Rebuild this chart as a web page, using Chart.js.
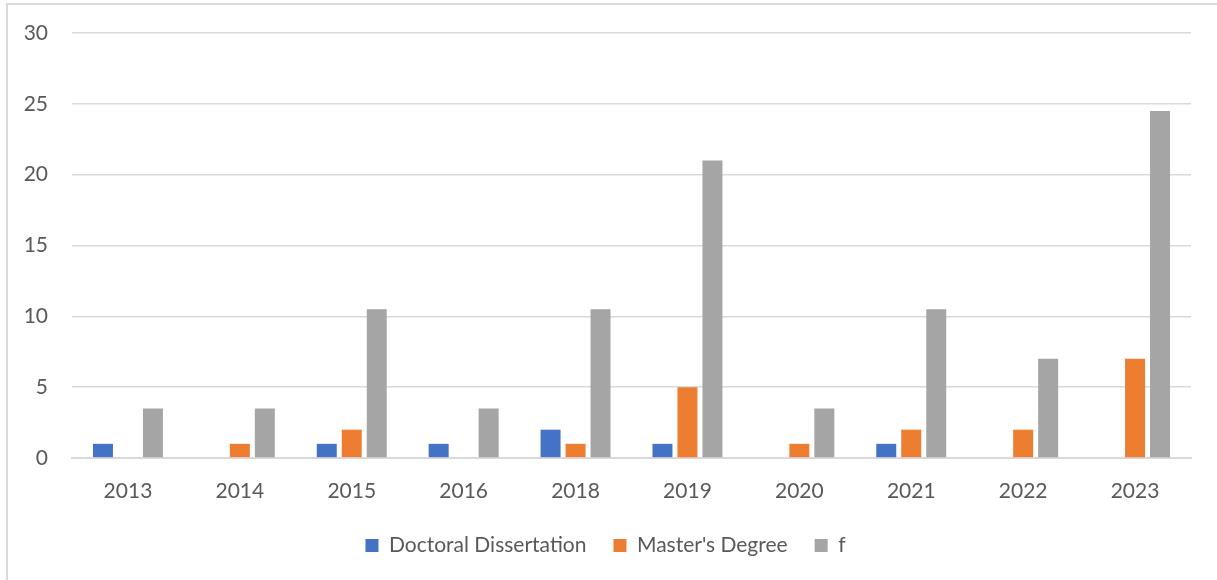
<!DOCTYPE html>
<html>
<head>
<meta charset="utf-8">
<script src="https://cdn.jsdelivr.net/npm/chart.js@4/dist/chart.umd.min.js"></script>
<style>
  html, body { margin: 0; padding: 0; background: #fff; }
  #frame { position: absolute; left: 6px; top: 3px; width: 1230px; height: 600px;
           border-left: 2px solid #d9d9d9; border-top: 2px solid #d9d9d9; }
  #wrap { position: absolute; left: 0; top: 0; width: 1217px; height: 580px; }
</style>
</head>
<body>
<div id="frame"></div>
<div id="wrap"><canvas id="chart"></canvas></div>
<script>
const years = ['2013', '2014', '2015', '2016', '2018', '2019', '2020', '2021', '2022', '2023'];
const doctoral = [1, 0, 1, 1, 2, 1, 0, 1, 0, 0];
const masters = [0, 1, 2, 0, 1, 5, 1, 2, 2, 7];
const fValues = [3.5, 3.5, 10.5, 3.5, 10.5, 21, 3.5, 10.5, 7, 24.5];
const yTicks = [0, 5, 10, 15, 20, 25, 30];

const textColor = '#595959';
const gridColor = '#d9d9d9';
const fontFamily = 'Lato, "Open Sans", sans-serif';
const fontSize = 21;

const ctx = document.getElementById('chart').getContext('2d');
const chart = new Chart(ctx, {
  type: 'bar',
  data: {
    labels: years,
    datasets: [
      { label: 'Doctoral Dissertation', data: doctoral, backgroundColor: '#4472C4' },
      { label: "Master's Degree", data: masters, backgroundColor: '#ED7D31' },
      { label: 'f', data: fValues, backgroundColor: '#A5A5A5' }
    ]
  },
  options: {
    responsive: true,
    maintainAspectRatio: false,
    animation: false,
    datasets: {
      bar: { categoryPercentage: 0.67, barPercentage: 0.8 }
    },
    layout: { padding: { left: 20, right: 26, top: 33, bottom: 14 } },
    scales: {
      x: {
        grid: { display: false, drawTicks: false },
        border: { color: gridColor, width: 2 },
        ticks: { color: textColor, font: { family: fontFamily, size: fontSize }, padding: 21 },
        afterFit: (scale) => { scale.height = 50; }
      },
      y: {
        min: 0,
        max: 30,
        afterBuildTicks: (scale) => { scale.ticks = yTicks.map(v => ({ value: v })); },
        grid: { color: gridColor, lineWidth: 1.6, drawTicks: false },
        border: { display: false },
        ticks: { color: textColor, font: { family: fontFamily, size: fontSize }, padding: 24 },
        afterFit: (scale) => {
          scale.width = 52;
          scale.paddingTop = 0;
          scale.paddingBottom = 0;
        }
      }
    },
    plugins: {
      legend: {
        position: 'bottom',
        labels: {
          color: textColor,
          font: { family: fontFamily, size: fontSize },
          boxWidth: 13,
          boxHeight: 13,
          padding: 27
        }
      },
      tooltip: { enabled: false }
    }
  }
});
</script>
</body>
</html>
